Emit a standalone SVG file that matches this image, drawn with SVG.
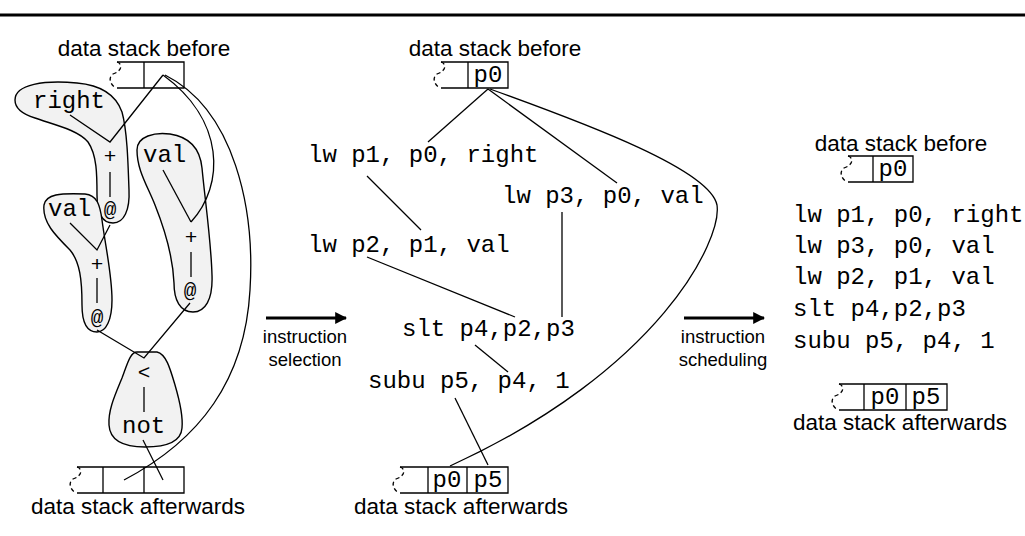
<svg xmlns="http://www.w3.org/2000/svg" width="1025" height="536" viewBox="0 0 1025 536">
  <style>
    .lbl { font-family: "Liberation Sans", Arial, sans-serif; font-size: 22.5px; fill: #000; text-anchor: middle; }
    .cap { font-family: "Liberation Sans", Arial, sans-serif; font-size: 18.5px; fill: #000; text-anchor: middle; }
    .code { font-family: "Liberation Mono", "Courier New", monospace; font-size: 24px; fill: #000; }
    .op { font-family: "Liberation Mono", "Courier New", monospace; font-size: 21px; fill: #000; text-anchor: middle; }
    .cell { font-family: "Liberation Mono", "Courier New", monospace; font-size: 24px; fill: #000; text-anchor: middle; }
    .box { fill: none; stroke: #000; stroke-width: 1.3; }
    .torn { fill: none; stroke: #000; stroke-width: 1.3; stroke-dasharray: 4 3; }
    .blob { fill: #f2f2f2; stroke: #000; stroke-width: 1.4; }
    .edge { fill: none; stroke: #000; stroke-width: 1.3; }
    .arrow { stroke: #000; stroke-width: 3; }
  </style>
  <defs>
    <!-- torn left end of a stack, drawn from the top-left corner -->
    <path id="tear" d="M0,0 C6,2 5,9 -4,12 C-9,15 -7,23 -1,26"/>
    <marker id="head" viewBox="0 0 10 10" refX="9" refY="5" markerWidth="4" markerHeight="4" orient="auto" markerUnits="strokeWidth">
      <path d="M0,0 L10,5 L0,10 Z" fill="#000"/>
    </marker>
  </defs>

  <!-- page rule -->
  <line x1="0" y1="15" x2="1025" y2="15" stroke="#000" stroke-width="3"/>

  <!-- ===== left: expression tree ===== -->
  <g id="stack-before-tree">
    <text class="lbl" x="144" y="56">data stack before</text>
    <use href="#tear" class="torn" x="117" y="62"/>
    <path class="box" d="M117,62 H184 V88 H117 M144,62 V88"/>
  </g>

  <g id="node-right">
    <path class="blob" d="M15,100 C15,84 45,80 77,83 C100,85 116,95 122,112 C127,130 128,160 129,190 C130,210 124,223 113,223 C101,223 97,210 97,195 C97,175 97,155 88,142 C78,130 55,125 35,118 C22,114 15,108 15,100 Z"/>
    <text class="code" x="33" y="108">right</text>
    <text class="op" x="110" y="163">+</text>
    <line class="edge" x1="110" y1="172" x2="110" y2="197"/>
    <text class="op" x="110" y="216">@</text>
  </g>

  <g id="node-val-left">
    <path class="blob" d="M44,205 C46,194 60,193 85,194 C97,195 100,205 102,220 C106,250 112,275 112,300 C112,320 106,332 97,332 C87,332 82,322 82,305 C82,280 80,262 70,250 C55,235 42,222 44,205 Z"/>
    <text class="code" x="48" y="216">val</text>
    <text class="op" x="97" y="271">+</text>
    <line class="edge" x1="97" y1="278" x2="97" y2="303"/>
    <text class="op" x="97" y="324">@</text>
  </g>

  <g id="node-val-right">
    <path class="blob" d="M137,150 C137,136 155,132 170,134 C190,137 200,148 202,168 C205,200 211,240 212,275 C213,300 205,312 193,312 C180,312 174,300 174,283 C173,260 165,230 155,205 C147,185 137,170 137,150 Z"/>
    <text class="code" x="143" y="162">val</text>
    <text class="op" x="191" y="244">+</text>
    <line class="edge" x1="191" y1="252" x2="191" y2="277"/>
    <text class="op" x="190" y="297">@</text>
  </g>

  <g id="node-less-not">
    <path class="blob" d="M137,352 L157,352 C166,354 170,368 175,385 C180,402 183,418 182,428 C181,442 165,447 145,447 C125,447 110,442 109,425 C108,410 115,395 122,378 C127,365 130,352 137,352 Z"/>
    <text class="op" x="144" y="379">&lt;</text>
    <line class="edge" x1="144" y1="387" x2="144" y2="412"/>
    <text class="code" x="122" y="433">not</text>
  </g>

  <g id="stack-after-tree">
    <use href="#tear" class="torn" x="77" y="467"/>
    <path class="box" d="M77,467 H184 V493 H77 M103,467 V493 M144,467 V493"/>
    <text class="lbl" x="138" y="514">data stack afterwards</text>
  </g>

  <g id="edges-tree">
    <polyline class="edge" points="70,115 110,142 163,75"/>
    <polyline class="edge" points="70,223 97,250 110,225"/>
    <polyline class="edge" points="163,170 191,222"/>
    <path class="edge" d="M191,222 C225,185 225,120 163,75"/>
    <polyline class="edge" points="97,330 144,358 190,303"/>
    <line class="edge" x1="143" y1="440" x2="163" y2="480"/>
    <path class="edge" d="M165,75 C235,110 255,210 250,290 C245,380 200,440 124,480"/>
  </g>

  <!-- ===== first arrow ===== -->
  <g id="step-selection">
    <line class="arrow" x1="266" y1="318" x2="346" y2="318" marker-end="url(#head)"/>
    <text class="cap" x="305" y="343">instruction</text>
    <text class="cap" x="305" y="366">selection</text>
  </g>

  <!-- ===== middle: instruction DAG ===== -->
  <g id="stack-before-dag">
    <text class="lbl" x="495" y="56">data stack before</text>
    <use href="#tear" class="torn" x="441" y="62"/>
    <path class="box" d="M441,62 H508 V88 H441 M468,62 V88"/>
    <text class="cell" x="488" y="82">p0</text>
  </g>

  <g id="ins-lw-p1"><text class="code" x="308" y="162">lw p1, p0, right</text></g>
  <g id="ins-lw-p3"><text class="code" x="502" y="203">lw p3, p0, val</text></g>
  <g id="ins-lw-p2"><text class="code" x="308" y="252">lw p2, p1, val</text></g>
  <g id="ins-slt"><text class="code" x="402" y="336">slt p4,p2,p3</text></g>
  <g id="ins-subu"><text class="code" x="368" y="388">subu p5, p4, 1</text></g>

  <g id="stack-after-dag">
    <use href="#tear" class="torn" x="400" y="467"/>
    <path class="box" d="M400,467 H508 V493 H400 M428,467 V493 M467,467 V493"/>
    <text class="cell" x="447" y="487">p0</text>
    <text class="cell" x="488" y="487">p5</text>
    <text class="lbl" x="461" y="514">data stack afterwards</text>
  </g>

  <g id="edges-dag">
    <line class="edge" x1="488" y1="89" x2="428" y2="142"/>
    <line class="edge" x1="488" y1="89" x2="617" y2="183"/>
    <path class="edge" d="M490,89 C590,125 710,170 717,205 C722,240 660,370 450,466"/>
    <line class="edge" x1="367" y1="176" x2="421" y2="230"/>
    <line class="edge" x1="367" y1="257" x2="515" y2="317"/>
    <line class="edge" x1="562" y1="212" x2="562" y2="317"/>
    <line class="edge" x1="475" y1="345" x2="508" y2="372"/>
    <line class="edge" x1="455" y1="398" x2="488" y2="465"/>
  </g>

  <!-- ===== second arrow ===== -->
  <g id="step-scheduling">
    <line class="arrow" x1="684" y1="318" x2="764" y2="318" marker-end="url(#head)"/>
    <text class="cap" x="723" y="343">instruction</text>
    <text class="cap" x="723" y="366">scheduling</text>
  </g>

  <!-- ===== right: scheduled sequence ===== -->
  <g id="stack-before-seq">
    <text class="lbl" x="901" y="151">data stack before</text>
    <use href="#tear" class="torn" x="848" y="156"/>
    <path class="box" d="M848,156 H913 V182 H848 M873,156 V182"/>
    <text class="cell" x="893" y="176">p0</text>
  </g>

  <g id="seq-code">
    <text class="code" x="793" y="222">lw p1, p0, right</text>
    <text class="code" x="793" y="253">lw p3, p0, val</text>
    <text class="code" x="793" y="284">lw p2, p1, val</text>
    <text class="code" x="793" y="316">slt p4,p2,p3</text>
    <text class="code" x="793" y="348">subu p5, p4, 1</text>
  </g>

  <g id="stack-after-seq">
    <use href="#tear" class="torn" x="839" y="384"/>
    <path class="box" d="M839,384 H947 V410 H839 M864,384 V410 M906,384 V410"/>
    <text class="cell" x="885" y="404">p0</text>
    <text class="cell" x="926" y="404">p5</text>
    <text class="lbl" x="900" y="430">data stack afterwards</text>
  </g>
</svg>
